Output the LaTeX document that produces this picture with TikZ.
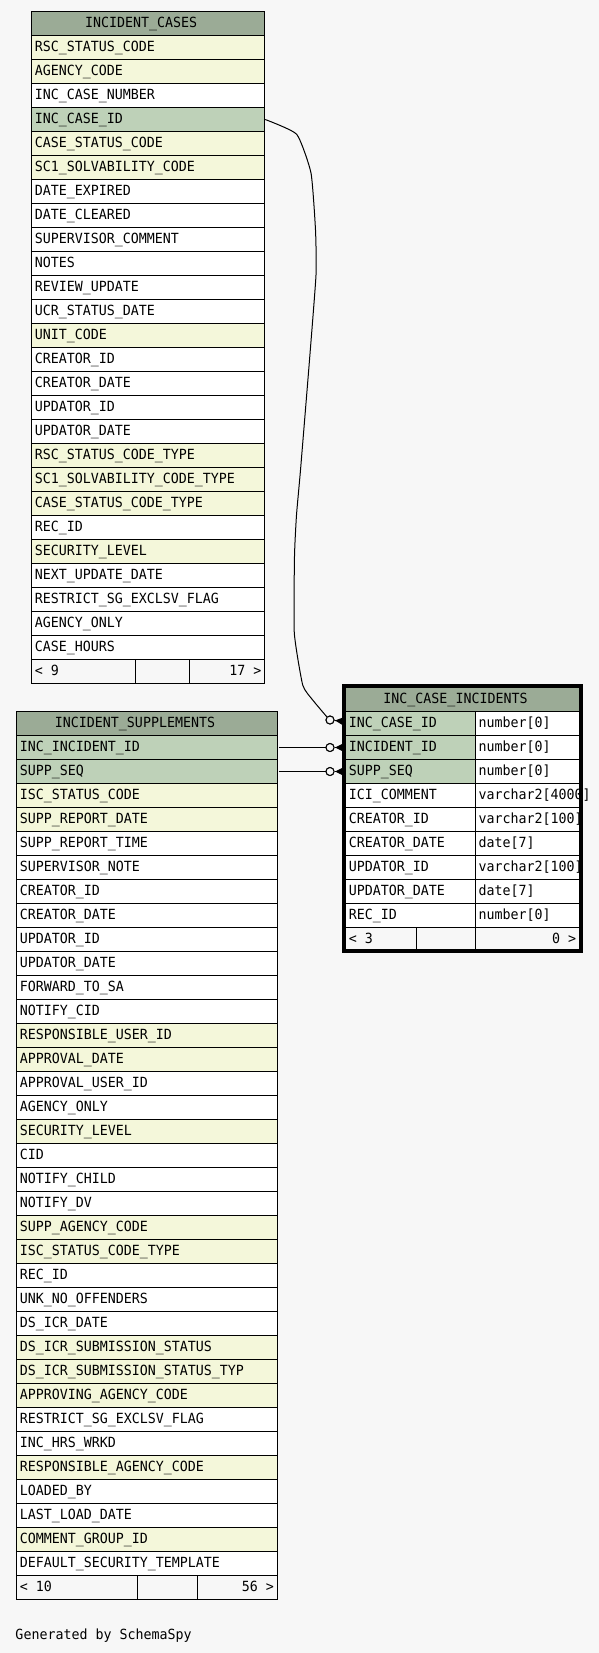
\documentclass[tikz,border=0pt]{standalone}
\usepackage{fontspec}
\newfontfamily\schfont[FakeStretch=0.95]{DejaVu Sans Mono}
\usetikzlibrary{arrows.meta,calc}
\definecolor{bgc}{HTML}{F7F7F7}
\definecolor{hdc}{HTML}{9BAB96}
\definecolor{colG}{HTML}{BED1B8}
\definecolor{colY}{HTML}{F4F7DA}
\definecolor{colW}{HTML}{FFFFFF}
\begin{document}
\begin{tikzpicture}[x=1pt,y=-1pt,
  cellbox/.style={draw=black, line width=1pt, minimum height=24pt, inner sep=0pt, outer sep=0pt, anchor=north west},
  celltext/.style={font=\schfont\fontsize{14}{16}\selectfont, inner sep=0pt, anchor=base west},
  hdtext/.style={celltext, anchor=base},
  conn/.style={draw=black, line width=1pt},
  odot/.style={circle, draw=black, line width=1pt, fill=bgc, minimum size=8pt, inner sep=0pt},
  crowl/.style={draw=black, line width=1pt, shorten >=3.2pt, -{Triangle[reversed, length=7.5pt, width=7pt]}},
  frame/.style={draw=black, line width=4pt}]
\useasboundingbox (0,0) rectangle (599,1653);
\fill[bgc] (0,0) rectangle (599,1653);

% ---------- INCIDENT_CASES ----------
\node[cellbox, fill=hdc, minimum width=233.4pt] (ich) at (31.3,11.5) {};
\node[hdtext] (icht) at (141.2,27.5) {INCIDENT\_CASES};
\foreach \c/\t [count=\i] in {Y/RSC\_STATUS\_CODE, Y/AGENCY\_CODE, W/INC\_CASE\_NUMBER, G/INC\_CASE\_ID,
  Y/CASE\_STATUS\_CODE, Y/SC1\_SOLVABILITY\_CODE, W/DATE\_EXPIRED, W/DATE\_CLEARED, W/SUPERVISOR\_COMMENT,
  W/NOTES, W/REVIEW\_UPDATE, W/UCR\_STATUS\_DATE, Y/UNIT\_CODE, W/CREATOR\_ID, W/CREATOR\_DATE,
  W/UPDATOR\_ID, W/UPDATOR\_DATE, Y/RSC\_STATUS\_CODE\_TYPE, Y/SC1\_SOLVABILITY\_CODE\_TYPE,
  Y/CASE\_STATUS\_CODE\_TYPE, W/REC\_ID, Y/SECURITY\_LEVEL, W/NEXT\_UPDATE\_DATE,
  W/RESTRICT\_SG\_EXCLSV\_FLAG, W/AGENCY\_ONLY, W/CASE\_HOURS}{
  \node[cellbox, fill=col\c, minimum width=233.4pt] (ic\i) at (31.3,{11.5+24*\i}) {};
  \node[celltext] (ict\i) at (34.6,{27.5+24*\i}) {\t};
}
\node[cellbox, fill=bgc, minimum width=104pt] (icf1) at (31.3,659.5) {};
\node[cellbox, fill=bgc, minimum width=54pt] (icf2) at (135.3,659.5) {};
\node[cellbox, fill=bgc, minimum width=75.4pt] (icf3) at (189.3,659.5) {};
\node[celltext] (icfl) at (34.6,675.5) {< 9};
\node[celltext, anchor=base east] (icfr) at (261.6,675.5) {17 >};

% ---------- INCIDENT_SUPPLEMENTS ----------
\node[cellbox, fill=hdc, minimum width=261pt] (ish) at (16.3,711.5) {};
\node[hdtext] (isht) at (135,727.5) {INCIDENT\_SUPPLEMENTS};
\foreach \c/\t [count=\i] in {G/INC\_INCIDENT\_ID, G/SUPP\_SEQ, Y/ISC\_STATUS\_CODE, Y/SUPP\_REPORT\_DATE,
  W/SUPP\_REPORT\_TIME, W/SUPERVISOR\_NOTE, W/CREATOR\_ID, W/CREATOR\_DATE, W/UPDATOR\_ID, W/UPDATOR\_DATE,
  W/FORWARD\_TO\_SA, W/NOTIFY\_CID, Y/RESPONSIBLE\_USER\_ID, Y/APPROVAL\_DATE, W/APPROVAL\_USER\_ID,
  W/AGENCY\_ONLY, Y/SECURITY\_LEVEL, W/CID, W/NOTIFY\_CHILD, W/NOTIFY\_DV, Y/SUPP\_AGENCY\_CODE,
  Y/ISC\_STATUS\_CODE\_TYPE, W/REC\_ID, W/UNK\_NO\_OFFENDERS, W/DS\_ICR\_DATE, Y/DS\_ICR\_SUBMISSION\_STATUS,
  Y/DS\_ICR\_SUBMISSION\_STATUS\_TYP, Y/APPROVING\_AGENCY\_CODE, W/RESTRICT\_SG\_EXCLSV\_FLAG,
  W/INC\_HRS\_WRKD, Y/RESPONSIBLE\_AGENCY\_CODE, W/LOADED\_BY, W/LAST\_LOAD\_DATE, Y/COMMENT\_GROUP\_ID,
  W/DEFAULT\_SECURITY\_TEMPLATE}{
  \node[cellbox, fill=col\c, minimum width=261pt] (is\i) at (16.3,{711.5+24*\i}) {};
  \node[celltext] (ist\i) at (19.6,{727.5+24*\i}) {\t};
}
\node[cellbox, fill=bgc, minimum width=121pt] (isf1) at (16.3,1575.5) {};
\node[cellbox, fill=bgc, minimum width=60pt] (isf2) at (137.3,1575.5) {};
\node[cellbox, fill=bgc, minimum width=80pt] (isf3) at (197.3,1575.5) {};
\node[celltext] (isfl) at (19.6,1591.5) {< 10};
\node[celltext, anchor=base east] (isfr) at (274.2,1591.5) {56 >};

% ---------- INC_CASE_INCIDENTS ----------
\node[cellbox, fill=hdc, minimum width=233.6pt] (icih) at (345.7,687.5) {};
\node[hdtext] (iciht) at (455.5,703.5) {INC\_CASE\_INCIDENTS};
\foreach \c/\t/\ty [count=\i] in {G/INC\_CASE\_ID/number[0], G/INCIDENT\_ID/number[0], G/SUPP\_SEQ/number[0],
  W/ICI\_COMMENT/varchar2[4000], W/CREATOR\_ID/varchar2[100], W/CREATOR\_DATE/date[7],
  W/UPDATOR\_ID/varchar2[100], W/UPDATOR\_DATE/date[7], W/REC\_ID/number[0]}{
  \node[cellbox, fill=col\c, minimum width=129.5pt] (ici\i) at (345.7,{687.5+24*\i}) {};
  \node[cellbox, fill=colW, minimum width=104.1pt] (icy\i) at (475.2,{687.5+24*\i}) {};
  \node[celltext] (icit\i) at (348.6,{703.5+24*\i}) {\t};
  \node[celltext] (icyt\i) at (478.3,{703.5+24*\i}) {\ty};
}
\node[cellbox, fill=bgc, minimum width=71pt] (icif1) at (345.7,927.5) {};
\node[cellbox, fill=bgc, minimum width=58.5pt] (icif2) at (416.7,927.5) {};
\node[cellbox, fill=bgc, minimum width=104.1pt] (icif3) at (475.2,927.5) {};
\node[celltext] (icifl) at (348.6,943.5) {< 3};
\node[celltext, anchor=base east] (icifr) at (576.4,943.5) {0 >};
\draw[frame] (343.7,686) rectangle (581,950.7);

% ---------- connectors ----------
\node[odot] (c1) at (330,720) {};
\node[odot] (c2) at (330,747.5) {};
\node[odot] (c3) at (330,771.5) {};
\draw[conn] plot[smooth, tension=0.3] coordinates {([xshift=0.5pt]ic4.east) (296.7,134.3) (311,173) (315.5,230)
  (316,275) (309.5,360) (300.5,470) (296.5,515) (294.5,556) (294.3,633) (302.7,685) (312.7,700) (c1.135)};
\draw[conn] ([xshift=1.5pt]is1.east) -- (c2);
\draw[conn] ([xshift=1.5pt]is2.east) -- (c3);
\node[odot] at (c1) {};
\node[odot] at (c2) {};
\node[odot] at (c3) {};
\draw[crowl] (c1) -- ([yshift=2pt]ici1.west);
\draw[crowl] (c2) -- (ici2.west);
\draw[crowl] (c3) -- (ici3.west);

\node[celltext] (gen) at (15.3,1639.3) {Generated by SchemaSpy};
\end{tikzpicture}
\end{document}
